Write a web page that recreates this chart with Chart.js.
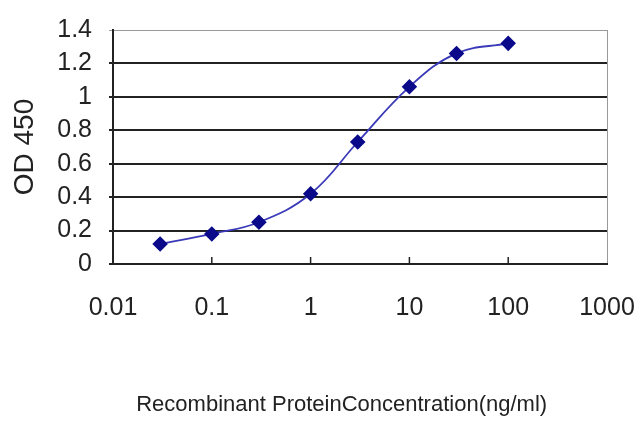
<!DOCTYPE html>
<html lang="en">
<head>
<meta charset="UTF-8" />
<title>OD 450 vs Recombinant Protein Concentration</title>
<script src="https://cdn.jsdelivr.net/npm/chart.js@4.4.0/dist/chart.umd.min.js"></script>
<style>
*{box-sizing:border-box}
body{margin:0;background:#fff}
#wrap{width:640px;height:427px}
</style>
</head>
<body>
<div id="wrap"><canvas id="odChart" width="640" height="427"></canvas></div>

<script>
/* ---------- data ---------- */
const CONC = [0.03, 0.1, 0.3, 1, 3, 10, 30, 100];           // ng/ml
const OD   = [0.12, 0.18, 0.25, 0.42, 0.73, 1.06, 1.26, 1.32];
const X_TICKS = [0.01, 0.1, 1, 10, 100, 1000];
const X_LABELS = ['0.01', '0.1', '1', '10', '100', '1000'];

const FONT = "'Liberation Sans', Arial, sans-serif";
const INK = '#222';

// little inward tick marks on the x axis, like the original
const innerTicks = {
  id: 'innerTicks',
  afterDraw(chart){
    const x = chart.scales.x, a = chart.chartArea, c = chart.ctx;
    c.save();
    c.strokeStyle = INK; c.lineWidth = 1.5;
    X_TICKS.slice(1, -1).forEach(v => {
      const px = x.getPixelForValue(v);
      c.beginPath(); c.moveTo(px, a.bottom); c.lineTo(px, a.bottom - 7); c.stroke();
    });
    c.restore();
  }
};

const isTop = c => c.tick && Math.abs(c.tick.value - 1.4) < 1e-6;

new Chart(document.getElementById('odChart'), {
  type: 'line',
  data: {
    datasets: [{
      data: CONC.map((c, i) => ({x: c, y: OD[i]})),
      borderColor: '#3a3ab8',
      borderWidth: 1.8,
      tension: 0.4,
      pointStyle: 'rectRot',
      pointRadius: 6.5,
      pointBackgroundColor: '#0a0a8a',
      pointBorderColor: '#0a0a8a',
      fill: false
    }]
  },
  options: {
    responsive: false,
    animation: false,
    layout: {padding: {top: 30, right: 33, left: 0, bottom: 0}},
    plugins: {legend: {display: false}, tooltip: {enabled: false}},
    scales: {
      x: {
        type: 'logarithmic',
        min: 0.01, max: 1000,
        afterBuildTicks: s => { s.ticks = X_TICKS.map(v => ({value: v})); },
        afterFit: s => { s.height = 427 - 264; s.paddingLeft = 0; s.paddingRight = 0; },
        ticks: {
          autoSkip: false, maxRotation: 0, padding: 29,
          color: INK, font: {family: FONT, size: 25},
          callback: (v, i) => X_LABELS[i]
        },
        grid: {
          drawTicks: false,
          color: c => c.tick && c.tick.value === 1000 ? '#9a9a9a' : 'transparent',
          lineWidth: 1
        },
        border: {color: INK, width: 2},
        title: {
          display: true,
          // trailing spaces nudge the centred title a bit left, as in the original
          text: 'Recombinant ProteinConcentration(ng/ml)      ',
          color: INK, font: {family: FONT, size: 22}, padding: {top: 0, bottom: 9}
        }
      },
      y: {
        min: 0, max: 1.4,
        afterFit: s => { s.width = 113; s.paddingTop = 0; s.paddingBottom = 0; },
        ticks: {
          stepSize: 0.2, padding: 17, color: INK, font: {family: FONT, size: 25},
          callback: v => String(+v.toFixed(1))
        },
        grid: {
          color: c => isTop(c) ? '#9a9a9a' : INK,
          lineWidth: c => isTop(c) ? 1 : 2,
          tickLength: 4
        },
        border: {color: INK, width: 2},
        title: {
          display: true, text: 'OD 450',
          color: INK, font: {family: FONT, size: 28}, padding: {top: 8, bottom: 0}
        }
      }
    }
  },
  plugins: [innerTicks]
});
</script>
</body>
</html>
